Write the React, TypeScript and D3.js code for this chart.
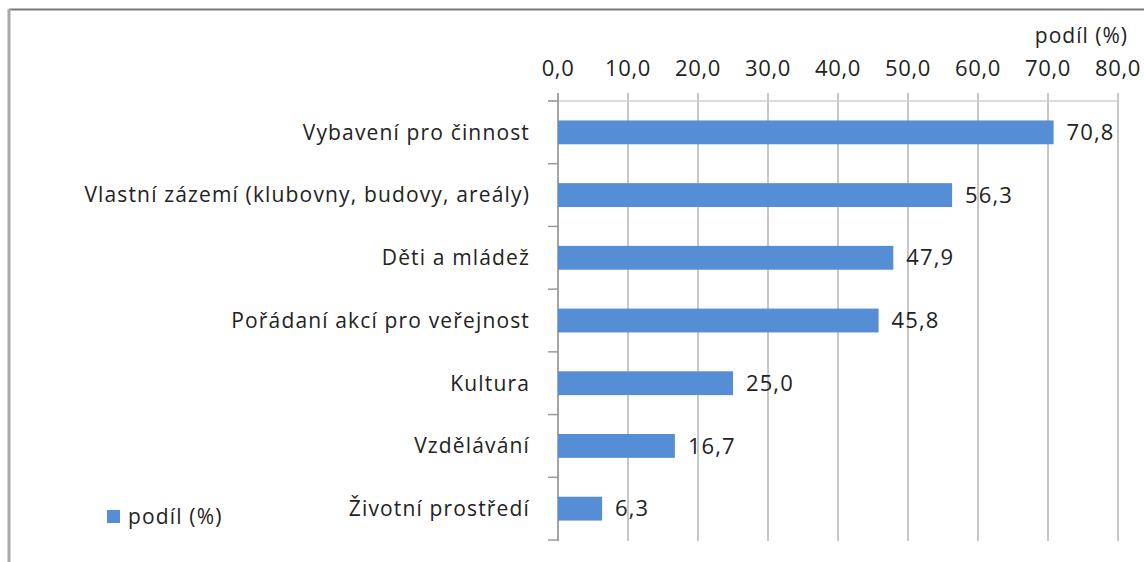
import React from "react";
import * as d3 from "d3";

const categories = [
  "Vybavení pro činnost",
  "Vlastní zázemí (klubovny, budovy, areály)",
  "Děti a mládež",
  "Pořádaní akcí pro veřejnost",
  "Kultura",
  "Vzdělávání",
  "Životní prostředí",
];
const values = [70.8, 56.3, 47.9, 45.8, 25.0, 16.7, 6.3];
const ticks = [0, 10, 20, 30, 40, 50, 60, 70, 80];
const seriesName = "podíl (%)";

const W = 1144;
const H = 562;
const left = 558;
const right = 1118;
const top = 101;
const bottom = 540;
const BAR = "#558ed5";
const GRID = "#b4b4b4";
const TEXT = "#222";
const FONT = "'Open Sans', sans-serif";

const fmt = (v: number) => v.toFixed(1).replace(".", ",");

export default function App() {
  const x = d3.scaleLinear().domain([0, 80]).range([left, right]);
  const y = d3.scaleBand<string>().domain(categories).range([top, bottom]).paddingInner(0.62).paddingOuter(0.31);
  const step = (bottom - top) / categories.length;
  return (
    <svg width={W} height={H} style={{ position: "absolute", left: 0, top: 0, background: "#fff" }} fontFamily={FONT}>
      <rect x={0} y={0} width={W} height={H} fill="#fff" />
      {/* frame */}
      <line x1={9} x2={W} y1={9.5} y2={9.5} stroke="#7a7a7a" strokeWidth={2} />
      <line x1={9} x2={9} y1={9} y2={H} stroke="#a8a8a8" strokeWidth={3} />
      {/* gridlines */}
      {ticks.map((t) => (
        <line key={"g" + t} x1={x(t)} x2={x(t)} y1={top - 8} y2={bottom + 1} stroke={GRID} strokeWidth={1.5} />
      ))}
      {/* top axis line */}
      <line x1={left - 10} x2={right} y1={top} y2={top} stroke="#d0d0d0" strokeWidth={1.5} />
      {/* left axis */}
      <line x1={left} x2={left} y1={top - 8} y2={bottom + 1} stroke="#9a9a9a" strokeWidth={1.5} />
      {d3.range(categories.length + 1).map((i) => (
        <line key={"t" + i} x1={left - 10} x2={left} y1={top + i * step} y2={top + i * step} stroke="#9a9a9a" strokeWidth={1.5} />
      ))}
      {/* tick labels */}
      {ticks.map((t) => (
        <text key={"l" + t} x={x(t)} y={76} textAnchor="middle" fontSize={22} letterSpacing={0.6} fill={TEXT}>
          {fmt(t)}
        </text>
      ))}
      <text x={1128} y={43} textAnchor="end" fontSize={21} letterSpacing={1} fill={TEXT}>
        {seriesName}
      </text>
      {/* bars */}
      {categories.map((c, i) => (
        <g key={c}>
          <rect x={x(0)} y={y(c)} width={x(values[i]) - x(0)} height={y.bandwidth()} fill={BAR} />
          <text x={x(values[i]) + 13} y={(y(c) as number) + y.bandwidth() / 2} dy="0.35em" fontSize={22} letterSpacing={1.1} fill={TEXT}>
            {fmt(values[i])}
          </text>
          <text x={530} y={(y(c) as number) + y.bandwidth() / 2} dy="0.35em" textAnchor="end" fontSize={21} letterSpacing={1.15} fill={TEXT}>
            {c}
          </text>
        </g>
      ))}
      {/* legend */}
      <rect x={107} y={510} width={13} height={13} fill={BAR} />
      <text x={128} y={524} fontSize={21} letterSpacing={1.15} fill={TEXT}>
        {seriesName}
      </text>
    </svg>
  );
}
